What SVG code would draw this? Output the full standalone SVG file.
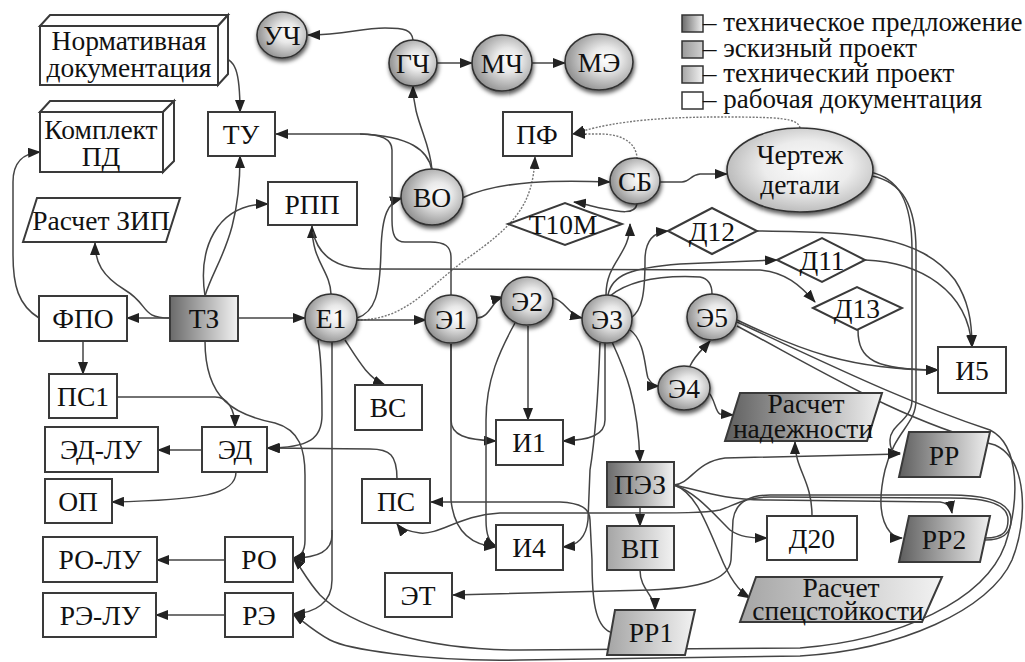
<svg xmlns="http://www.w3.org/2000/svg" width="1025" height="662" viewBox="0 0 1025 662" font-family="'Liberation Serif', 'DejaVu Serif', serif">
<style>
text{font-family:'Liberation Serif','DejaVu Serif',serif}
.t{font-size:27.5px;fill:#111;text-anchor:middle}
.lg{font-size:27px;fill:#111}
.b{fill:#fff;stroke:#3a3a3a;stroke-width:2}
.c{stroke:#333;stroke-width:1.6;filter:url(#sh)}
.e{fill:none;stroke:#444;stroke-width:1.5;marker-end:url(#a)}
.n{fill:none;stroke:#444;stroke-width:1.5}
.d{fill:none;stroke:#777;stroke-width:1.4;stroke-dasharray:2 1.5;marker-end:url(#a)}
</style>
<defs>
<marker id="a" markerWidth="13" markerHeight="10" refX="12" refY="5" orient="auto" markerUnits="userSpaceOnUse"><path d="M0,0 L13,5 L0,10 z" fill="#222"/></marker>
<linearGradient id="gD" x1="0" x2="1" y1="0" y2="0"><stop offset="0" stop-color="#6a6a6a"/><stop offset="1" stop-color="#f2f2f2"/></linearGradient>
<linearGradient id="gP" x1="0" x2="1" y1="0" y2="0"><stop offset="0" stop-color="#5e5e5e"/><stop offset="1" stop-color="#f0f0f0"/></linearGradient>
<linearGradient id="gL" x1="0" x2="1" y1="0" y2="0"><stop offset="0" stop-color="#a5a5a5"/><stop offset="1" stop-color="#f2f2f2"/></linearGradient>
<linearGradient id="gM" x1="0" x2="1" y1="0" y2="0"><stop offset="0" stop-color="#9a9a9a"/><stop offset="1" stop-color="#d0d0d0"/></linearGradient>
<radialGradient id="gC" cx="0.6" cy="0.45" r="0.62"><stop offset="0" stop-color="#ffffff"/><stop offset="0.35" stop-color="#e8e8e8"/><stop offset="1" stop-color="#8c8c8c"/></radialGradient>
<radialGradient id="gE" cx="0.55" cy="0.45" r="0.6"><stop offset="0" stop-color="#fbfbfb"/><stop offset="0.5" stop-color="#ececec"/><stop offset="1" stop-color="#b4b4b4"/></radialGradient>
<filter id="sh" x="-30%" y="-30%" width="160%" height="170%"><feDropShadow dx="1" dy="3" stdDeviation="2" flood-color="#000" flood-opacity="0.65"/></filter>
</defs>

<g id="connectors">
<path class="e" d="M218,57 C236,57 240,72 240,112"/>
<path class="e" d="M39,318 C18,305 13,285 13,255 L13,182 C13,162 24,153 40,152"/>
<path class="e" d="M170,318 L127,318"/>
<path class="e" d="M170,318 C140,318 150,305 125,290 C102,276 95,262 95,243"/>
<path class="e" d="M205,296 C215,262 240,240 240,156"/>
<path class="e" d="M205,296 C198,250 215,204 268,204"/>
<path class="e" d="M238,318 L305,318"/>
<path class="e" d="M205,341 C205,400 235,415 275,423 C300,430 305,450 305,475 L305,540 C305,552 300,557 293,558"/>
<path class="e" d="M83,341 L83,374"/>
<path class="e" d="M117,397 L215,397 C228,397 235,410 235,427"/>
<path class="e" d="M202,450 L158,450"/>
<path class="e" d="M236,472 C236,495 200,500 112,502"/>
<path class="e" d="M225,560 L157,560"/>
<path class="e" d="M225,615 L156,615"/>
<path class="e" d="M331,294 C330,270 312,262 312,226"/>
<path class="e" d="M313,232 C318,255 335,269 370,269 L760,270 C785,272 800,285 815,302"/>
<path class="e" d="M357,318 C375,312 380,295 381,250 C382,215 388,202 402,198"/>
<path class="d" d="M357,320 C405,320 425,290 465,260 C515,225 533,205 535,157"/>
<path class="e" d="M357,320 L426,320"/>
<path class="e" d="M345,340 C358,360 368,378 385,385"/>
<path class="e" d="M318,340 C322,360 322,390 322,415 C322,438 310,448 267,448"/>
<path class="e" d="M332,342 L332,535 C332,552 315,558 293,558"/>
<path class="e" d="M332,530 L332,580 C332,603 315,613 293,614"/>
<path class="e" d="M432,170 C430,140 413,120 413,86"/>
<path class="e" d="M432,170 C428,150 410,136 360,134 L276,134"/>
<path class="n" d="M451,296 L451,258 C451,246 445,242 430,242 L405,242 C395,242 392,235 392,220 L392,150 C392,139 382,134 360,134"/>
<path class="e" d="M462,198 C500,180 560,180 610,182"/>
<path class="e" d="M413,40 C412,30 405,28 385,28 C360,28 345,35 308,35"/>
<path class="e" d="M437,63 L472,63"/>
<path class="e" d="M532,63 L565,63"/>
<path class="d" d="M637,159 C637,145 625,134 600,134 L573,134"/>
<path class="d" d="M800,128 C798,118 780,117 720,117 C640,117 600,125 573,134"/>
<path class="e" d="M660,182 L682,182 C690,182 690,175 700,174 L727,174"/>
<path class="e" d="M637,204 C635,215 620,212 600,208 C590,206 582,203 574,202"/>
<path class="e" d="M870,172 C898,178 912,200 912,250 L912,400 C912,420 890,425 890,440 C890,450 893,453 900,453"/>
<path class="e" d="M872,176 C902,182 916,205 916,250 L916,400 C916,425 895,430 885,470 C878,500 880,520 890,532 C895,537 897,538 902,538"/>
<path class="e" d="M477,318 C490,318 492,300 503,297"/>
<path class="e" d="M451,344 L451,420 C451,435 465,440 496,441"/>
<path class="e" d="M451,344 L451,500 C454,530 470,545 496,547"/>
<path class="e" d="M528,326 L528,420"/>
<path class="e" d="M515,323 C500,350 486,380 486,420 L486,520 C486,535 489,543 496,546"/>
<path class="e" d="M553,298 C565,300 568,315 582,318"/>
<path class="e" d="M605,343 L605,420 C605,435 590,440 563,441"/>
<path class="e" d="M600,343 C598,400 595,440 590,470 L588,520 C586,540 575,546 563,547"/>
<path class="e" d="M612,342 C625,370 638,400 640,462"/>
<path class="e" d="M606,295 C606,262 630,255 630,224"/>
<path class="e" d="M631,318 C642,310 645,295 645,260 C645,240 655,232 668,231"/>
<path class="e" d="M608,295 C612,275 630,268 680,264 L777,260"/>
<path class="n" d="M610,296 C630,280 660,275 700,277 C710,279 712,286 712,294"/>
<path class="e" d="M630,330 C645,340 645,370 648,378 C652,385 656,386 659,386"/>
<path class="e" d="M690,366 C695,355 704,348 710,341"/>
<path class="e" d="M708,392 C715,398 715,412 720,414 L733,415"/>
<path class="e" d="M737,320 C800,350 850,370 938,370"/>
<path class="e" d="M858,330 C858,360 875,370 938,370"/>
<path class="e" d="M757,231 C860,232 920,235 955,280 C968,300 972,320 972,347"/>
<path class="e" d="M865,260 C920,262 968,290 972,347"/>
<path class="e" d="M737,322 C820,360 900,400 990,430 C1020,445 1020,500 1005,545 C985,600 900,640 800,648 L520,650 C420,650 350,625 320,595 C305,578 300,565 293,558"/>
<path class="e" d="M737,326 C820,370 900,420 995,445 C1028,460 1028,520 1012,560 C990,610 900,650 800,656 L520,660 C420,662 345,648 330,640 C312,630 302,620 293,614"/>
<path class="e" d="M640,507 L640,526"/>
<path class="e" d="M640,570 C640,590 655,595 655,610"/>
<path class="e" d="M610,632 C595,625 592,600 592,560 L590,520 C590,508 580,503 560,502 L431,502"/>
<path class="e" d="M985,538 C1005,538 1008,530 1008,520 C1008,505 990,498 950,498 L770,497 C745,497 735,505 720,510 C705,513 690,513 600,513 L500,513 C460,515 440,535 420,533 C410,532 400,528 397,524"/>
<path class="e" d="M985,540 C1005,540 1011,532 1011,520 C1011,503 990,495 950,495 L770,495 C745,495 735,505 733,520 L731,560 C729,580 700,588 650,590 L453,595"/>
<path class="e" d="M674,485 C692,483 695,462 725,458 L900,454"/>
<path class="e" d="M674,485 C700,490 720,500 770,500 L940,502 C948,503 951,507 952,513"/>
<path class="e" d="M674,485 C695,492 710,510 730,530 C740,537 750,538 767,538"/>
<path class="e" d="M674,485 C695,492 705,520 720,555 C730,580 740,592 750,598"/>
<path class="e" d="M812,516 C812,480 795,470 795,442"/>
<path class="e" d="M397,479 C397,455 390,449 370,449 L268,448"/>
</g>

<g id="legend">
<rect x="682" y="15" width="21" height="17" fill="url(#gD)" stroke="#333" stroke-width="1.5"/>
<rect x="682" y="41" width="21" height="17" fill="url(#gM)" stroke="#333" stroke-width="1.5"/>
<rect x="682" y="66" width="21" height="17" fill="url(#gL)" stroke="#333" stroke-width="1.5"/>
<rect x="682" y="92" width="21" height="17" fill="#fff" stroke="#333" stroke-width="1.5"/>
<text class="lg" x="703" y="31">– техническое предложение</text>
<text class="lg" x="703" y="57">– эскизный проект</text>
<text class="lg" x="703" y="82">– технический проект</text>
<text class="lg" x="703" y="108">– рабочая документация</text>
</g>

<g id="n-norm">
<polygon class="b" points="40,26 50,15 228,15 218,26"/>
<polygon class="b" points="218,26 228,15 228,74 218,85"/>
<rect class="b" x="40" y="26" width="178" height="59"/>
<text class="t" x="129" y="50">Нормативная</text>
<text class="t" x="129" y="77">документация</text>
</g>
<g id="n-kpd">
<polygon class="b" points="40,112 50,101 174,101 163,112"/>
<polygon class="b" points="163,112 174,101 174,161 163,172"/>
<rect class="b" x="40" y="112" width="123" height="60"/>
<text class="t" x="101" y="139">Комплект</text>
<text class="t" x="101" y="166">ПД</text>
</g>
<g id="n-tu"><rect class="b" x="208" y="112" width="67" height="44"/><text class="t" x="241" y="144">ТУ</text></g>
<g id="n-rpp"><rect class="b" x="268" y="182" width="89" height="43"/><text class="t" x="312" y="214">РПП</text></g>
<g id="n-zip"><polygon class="b" points="37,198 180,198 166,242 23,242"/><text class="t" x="101" y="230">Расчет ЗИП</text></g>
<g id="n-fpo"><rect class="b" x="39" y="296" width="88" height="45"/><text class="t" x="83" y="328">ФПО</text></g>
<g id="n-tz"><rect x="170" y="296" width="68" height="45" fill="url(#gD)" stroke="#3a3a3a" stroke-width="2"/><text class="t" x="204" y="328">ТЗ</text></g>
<g id="n-ps1"><rect class="b" x="49" y="374" width="68" height="44"/><text class="t" x="83" y="406">ПС1</text></g>
<g id="n-edlu"><rect class="b" x="45" y="427" width="113" height="45"/><text class="t" x="101" y="459">ЭД-ЛУ</text></g>
<g id="n-ed"><rect class="b" x="202" y="427" width="65" height="45"/><text class="t" x="235" y="459">ЭД</text></g>
<g id="n-op"><rect class="b" x="45" y="479" width="67" height="44"/><text class="t" x="78" y="511">ОП</text></g>
<g id="n-rolu"><rect class="b" x="43" y="537" width="114" height="45"/><text class="t" x="100" y="569">РО-ЛУ</text></g>
<g id="n-ro"><rect class="b" x="225" y="537" width="68" height="45"/><text class="t" x="259" y="569">РО</text></g>
<g id="n-relu"><rect class="b" x="43" y="593" width="113" height="44"/><text class="t" x="100" y="625">РЭ-ЛУ</text></g>
<g id="n-re"><rect class="b" x="225" y="593" width="68" height="44"/><text class="t" x="259" y="625">РЭ</text></g>
<g id="n-vs"><rect class="b" x="355" y="385" width="67" height="45"/><text class="t" x="388" y="417">ВС</text></g>
<g id="n-ps"><rect class="b" x="362" y="479" width="68" height="44"/><text class="t" x="396" y="511">ПС</text></g>
<g id="n-et"><rect class="b" x="385" y="573" width="67" height="44"/><text class="t" x="418" y="605">ЭТ</text></g>
<g id="n-i1"><rect class="b" x="496" y="420" width="67" height="45"/><text class="t" x="529" y="452">И1</text></g>
<g id="n-i4"><rect class="b" x="496" y="525" width="67" height="45"/><text class="t" x="529" y="557">И4</text></g>
<g id="n-pez"><rect x="607" y="462" width="67" height="45" fill="url(#gD)" stroke="#3a3a3a" stroke-width="2"/><text class="t" x="640" y="494">ПЭЗ</text></g>
<g id="n-vp"><rect x="607" y="526" width="67" height="44" fill="url(#gL)" stroke="#3a3a3a" stroke-width="2"/><text class="t" x="640" y="558">ВП</text></g>
<g id="n-rr1"><polygon points="615,610 695,610 685,655 607,655" fill="url(#gL)" stroke="#3a3a3a" stroke-width="2"/><text class="t" x="651" y="642">РР1</text></g>
<g id="n-pf"><rect class="b" x="503" y="112" width="69" height="44"/><text class="t" x="537" y="144">ПФ</text></g>
<g id="n-t10m"><polygon class="b" points="508,224 565,203 622,224 565,245"/><text class="t" x="563" y="234">Т10М</text></g>
<g id="n-d12"><polygon class="b" points="668,231 712,208 757,231 712,254"/><text class="t" x="712" y="241">Д12</text></g>
<g id="n-d11"><polygon class="b" points="777,260 822,238 865,260 822,282"/><text class="t" x="822" y="270">Д11</text></g>
<g id="n-d13"><polygon class="b" points="813,308 857,287 902,308 857,330"/><text class="t" x="857" y="318">Д13</text></g>
<g id="n-i5"><rect class="b" x="938" y="347" width="68" height="46"/><text class="t" x="972" y="380">И5</text></g>
<g id="n-rnad"><polygon points="740,393 882,393 867,441 725,441" fill="url(#gP)" stroke="#3a3a3a" stroke-width="2"/><text class="t" x="806" y="413">Расчет</text><text class="t" x="803" y="438">надежности</text></g>
<g id="n-rr"><polygon points="909,432 990,432 980,477 899,477" fill="url(#gP)" stroke="#3a3a3a" stroke-width="2"/><text class="t" x="944" y="465">РР</text></g>
<g id="n-d20"><rect class="b" x="767" y="516" width="90" height="44"/><text class="t" x="812" y="548">Д20</text></g>
<g id="n-rr2"><polygon points="909,516 990,516 980,562 899,562" fill="url(#gP)" stroke="#3a3a3a" stroke-width="2"/><text class="t" x="944" y="549">РР2</text></g>
<g id="n-rsp"><polygon points="756,577 942,577 922,622 740,622" fill="url(#gL)" stroke="#3a3a3a" stroke-width="2"/><text class="t" x="841" y="597">Расчет</text><text class="t" x="838" y="620">спецстойкости</text></g>

<g id="n-uch"><ellipse class="c" cx="282" cy="35" rx="25" ry="23" fill="url(#gC)"/><text class="t" x="282" y="45">УЧ</text></g>
<g id="n-gch"><ellipse class="c" cx="413" cy="63" rx="24" ry="23" fill="url(#gC)"/><text class="t" x="413" y="73">ГЧ</text></g>
<g id="n-mch"><ellipse class="c" cx="502" cy="63" rx="30" ry="28" fill="url(#gC)"/><text class="t" x="502" y="73">МЧ</text></g>
<g id="n-me"><ellipse class="c" cx="599" cy="62" rx="34" ry="28" fill="url(#gC)"/><text class="t" x="599" y="72">МЭ</text></g>
<g id="n-vo"><ellipse class="c" cx="432" cy="197" rx="31" ry="28" fill="url(#gC)"/><text class="t" x="432" y="207">ВО</text></g>
<g id="n-sb"><ellipse class="c" cx="635" cy="181" rx="25" ry="23" fill="url(#gC)"/><text class="t" x="635" y="191">СБ</text></g>
<g id="n-cher"><ellipse class="c" cx="800" cy="170" rx="73" ry="42" fill="url(#gE)"/><text class="t" x="800" y="164">Чертеж</text><text class="t" x="800" y="194">детали</text></g>
<g id="n-e1"><ellipse class="c" cx="331" cy="318" rx="26" ry="24" fill="url(#gC)"/><text class="t" x="331" y="328">Е1</text></g>
<g id="n-e1b"><ellipse class="c" cx="451" cy="319" rx="26" ry="24" fill="url(#gC)"/><text class="t" x="451" y="329">Э1</text></g>
<g id="n-e2"><ellipse class="c" cx="527" cy="301" rx="26" ry="24" fill="url(#gC)"/><text class="t" x="527" y="311">Э2</text></g>
<g id="n-e3"><ellipse class="c" cx="607" cy="319" rx="25" ry="24" fill="url(#gC)"/><text class="t" x="607" y="329">Э3</text></g>
<g id="n-e5"><ellipse class="c" cx="712" cy="317" rx="25" ry="23" fill="url(#gC)"/><text class="t" x="712" y="327">Э5</text></g>
<g id="n-e4"><ellipse class="c" cx="684" cy="388" rx="26" ry="22" fill="url(#gC)"/><text class="t" x="684" y="398">Э4</text></g>
</svg>
